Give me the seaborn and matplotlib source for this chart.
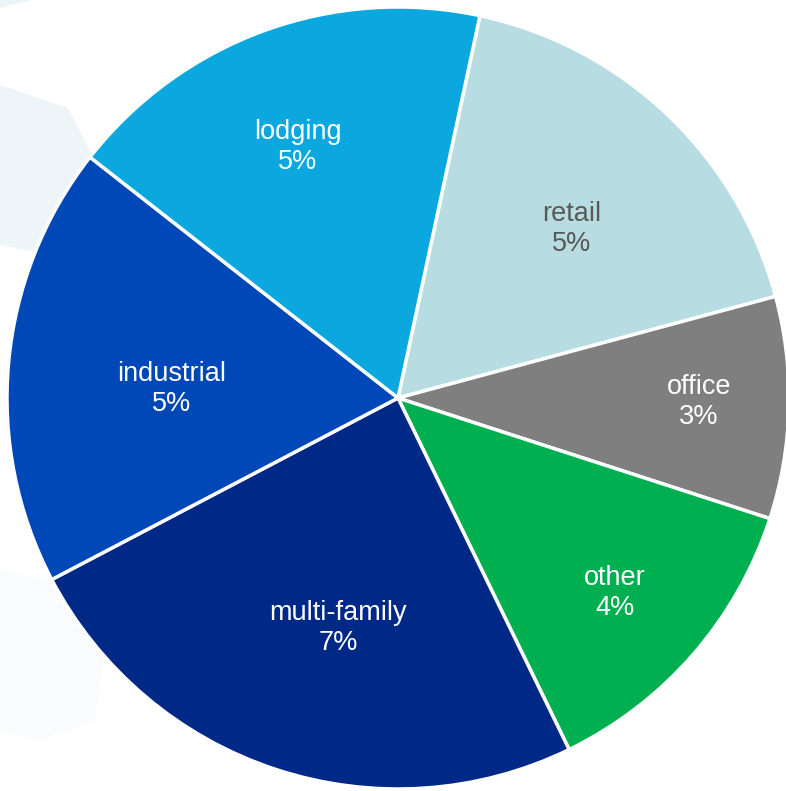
import numpy as np
import matplotlib
matplotlib.use("Agg")
import matplotlib.pyplot as plt
from matplotlib.patches import Polygon
import seaborn as sns

# Property-type shares (percent)
categories = ["retail", "office", "other", "multi-family", "industrial", "lodging"]
shares = [5.06, 2.66, 3.71, 7.11, 5.29, 5.16]

slice_colors = ["#B7DCE2", "#7F7F7F", "#00AF50", "#002987", "#0047B8", "#0BA7DF"]
text_colors = ["#595959", "white", "white", "white", "white", "white"]
label_radius = [0.625, 0.77, 0.74, 0.60, 0.58, 0.70]
label_turn = [-1.7, 1.4, -0.5, 3.4, 1.9, 1.5]

sns.set_theme(style="white")
plt.rcParams["font.family"] = ["Liberation Sans", "DejaVu Sans"]

W, H = 786, 791
fig = plt.figure(figsize=(W / 100, H / 100), dpi=100)
fig.patch.set_facecolor("white")


def px(points):
    return [(x / W, 1 - y / H) for x, y in points]


# faint hexagonal backdrop shapes
for pts, col in [
    ([(0, 85), (68, 108), (100, 170), (85, 235), (35, 252), (0, 245)], "#EEF5F8"),
    ([(0, 0), (32, 0), (0, 8)], "#EEF5F8"),
    ([(0, 570), (60, 585), (105, 650), (95, 720), (40, 740), (0, 730)], "#F9FBFC"),
]:
    fig.patches.append(Polygon(px(pts), closed=True, transform=fig.transFigure,
                               facecolor=col, edgecolor="none", zorder=-1))

cx, cy, r = 398, 398, 391
ax = fig.add_axes([(cx - r) / W, (H - cy - r) / H, 2 * r / W, 2 * r / H])
ax.set_zorder(1)
ax.patch.set_alpha(0)

wedges, _ = ax.pie(shares, colors=slice_colors, startangle=77.9, counterclock=False,
                   radius=1.0, wedgeprops=dict(edgecolor="white", linewidth=2.5))
for w in wedges:
    w.set_clip_on(False)
ax.set_xlim(-1, 1)
ax.set_ylim(-1, 1)
ax.set_aspect("equal")
ax.axis("off")

for w, name, val, tc, rr, turn in zip(wedges, categories, shares, text_colors,
                                      label_radius, label_turn):
    mid = np.deg2rad((w.theta1 + w.theta2) / 2 + turn)
    ax.annotate(f"{name}\n{val:.0f}%", xy=(rr * np.cos(mid), rr * np.sin(mid)),
                xytext=(0, -2.5), textcoords="offset points",
                ha="center", va="center", color=tc, fontsize=19.5, linespacing=1.2)

fig.savefig("out.png", dpi=100, facecolor="white")
